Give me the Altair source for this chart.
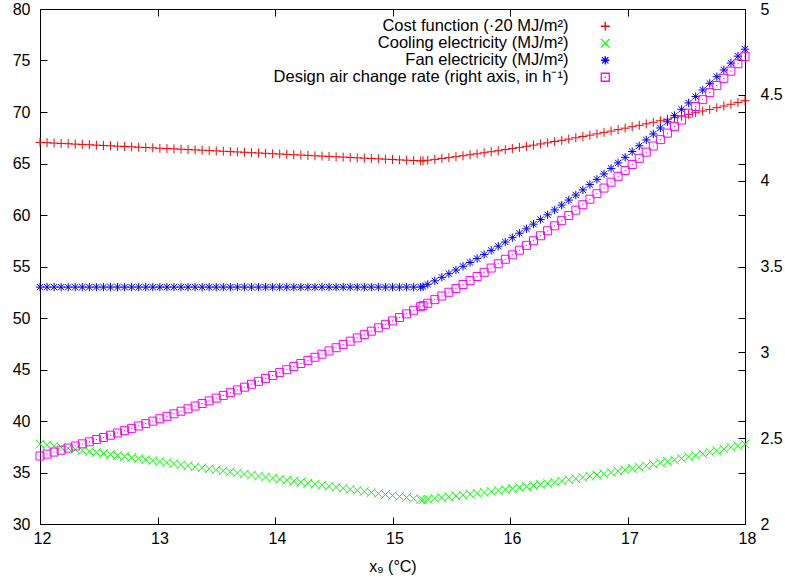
import altair as alt
import pandas as pd

# x values (°C)
x_c = [
    12.00, 12.06, 12.12, 12.18, 12.24, 12.30, 12.36, 12.42, 12.48, 12.54,
    12.60, 12.66, 12.72, 12.78, 12.84, 12.90, 12.96, 13.02, 13.08, 13.14,
    13.20, 13.26, 13.32, 13.38, 13.44, 13.50, 13.56, 13.62, 13.68, 13.74,
    13.80, 13.86, 13.92, 13.98, 14.04, 14.10, 14.16, 14.22, 14.28, 14.34,
    14.40, 14.46, 14.52, 14.58, 14.64, 14.70, 14.76, 14.82, 14.88, 14.94,
    15.00, 15.06, 15.12, 15.18, 15.24,
    15.26,
    15.30, 15.36, 15.42, 15.48, 15.54, 15.60, 15.66, 15.72, 15.78, 15.84,
    15.90, 15.96, 16.02, 16.08, 16.14, 16.20, 16.26, 16.32, 16.38, 16.44,
    16.50, 16.56, 16.62, 16.68, 16.74, 16.80, 16.86, 16.92, 16.98, 17.04,
    17.10, 17.16, 17.22, 17.28, 17.34, 17.40, 17.46, 17.52, 17.58, 17.64,
    17.70, 17.76, 17.82, 17.88, 17.94, 18.00,
]

cost = [
    67.05, 67.02, 66.98, 66.95, 66.92, 66.88, 66.85, 66.82, 66.78, 66.75,
    66.72, 66.68, 66.65, 66.62, 66.58, 66.55, 66.52, 66.48, 66.45, 66.42,
    66.39, 66.35, 66.32, 66.29, 66.25, 66.22, 66.19, 66.15, 66.12, 66.09,
    66.05, 66.02, 65.99, 65.95, 65.92, 65.89, 65.85, 65.82, 65.79, 65.75,
    65.72, 65.69, 65.65, 65.62, 65.59, 65.55, 65.52, 65.49, 65.45, 65.42,
    65.39, 65.35, 65.32, 65.29, 65.25,
    65.26,
    65.32, 65.40, 65.49, 65.57, 65.66, 65.75, 65.85, 65.94, 66.04, 66.14,
    66.24, 66.35, 66.45, 66.56, 66.67, 66.78, 66.90, 67.01, 67.13, 67.25,
    67.37, 67.50, 67.62, 67.75, 67.88, 68.02, 68.15, 68.29, 68.43, 68.57,
    68.71, 68.85, 69.00, 69.15, 69.30, 69.45, 69.61, 69.77, 69.93, 70.09,
    70.25, 70.42, 70.58, 70.75, 70.93, 71.10,
]

cooling = [
    37.75, 37.65, 37.55, 37.45, 37.35, 37.25, 37.15, 37.05, 36.95, 36.85,
    36.75, 36.65, 36.55, 36.45, 36.35, 36.25, 36.16, 36.06, 35.96, 35.86,
    35.76, 35.66, 35.56, 35.46, 35.36, 35.26, 35.16, 35.06, 34.96, 34.86,
    34.76, 34.66, 34.56, 34.46, 34.36, 34.26, 34.16, 34.06, 33.96, 33.86,
    33.76, 33.66, 33.56, 33.46, 33.36, 33.26, 33.16, 33.06, 32.96, 32.86,
    32.77, 32.67, 32.57, 32.47, 32.37,
    32.36,
    32.41, 32.49, 32.56, 32.64, 32.72, 32.80, 32.89, 32.98, 33.06, 33.16,
    33.25, 33.34, 33.44, 33.54, 33.64, 33.74, 33.85, 33.95, 34.06, 34.17,
    34.29, 34.40, 34.52, 34.64, 34.76, 34.88, 35.01, 35.13, 35.26, 35.40,
    35.53, 35.66, 35.80, 35.94, 36.08, 36.22, 36.37, 36.52, 36.67, 36.82,
    36.97, 37.13, 37.28, 37.44, 37.60, 37.77,
]

fan = [
    53.00, 53.00, 53.00, 53.00, 53.00, 53.00, 53.00, 53.00, 53.00, 53.00,
    53.00, 53.00, 53.00, 53.00, 53.00, 53.00, 53.00, 53.00, 53.00, 53.00,
    53.00, 53.00, 53.00, 53.00, 53.00, 53.00, 53.00, 53.00, 53.00, 53.00,
    53.00, 53.00, 53.00, 53.00, 53.00, 53.00, 53.00, 53.00, 53.00, 53.00,
    53.00, 53.00, 53.00, 53.00, 53.00, 53.00, 53.00, 53.00, 53.00, 53.00,
    53.00, 53.00, 53.00, 53.00, 53.00,
    53.05,
    53.27, 53.61, 53.95, 54.30, 54.66, 55.02, 55.39, 55.78, 56.16, 56.56,
    56.97, 57.38, 57.80, 58.23, 58.66, 59.11, 59.56, 60.02, 60.49, 60.96,
    61.45, 61.94, 62.44, 62.95, 63.46, 63.99, 64.52, 65.06, 65.60, 66.16,
    66.72, 67.29, 67.87, 68.45, 69.05, 69.65, 70.26, 70.88, 71.50, 72.14,
    72.78, 73.43, 74.08, 74.75, 75.42, 76.10,
]

# design air change rate (right axis, h^-1)
ach = [
    2.396, 2.407, 2.419, 2.430, 2.442, 2.454, 2.467, 2.479, 2.492, 2.504,
    2.517, 2.530, 2.544, 2.557, 2.571, 2.585, 2.599, 2.613, 2.627, 2.642,
    2.657, 2.671, 2.687, 2.702, 2.717, 2.733, 2.749, 2.765, 2.781, 2.797,
    2.814, 2.831, 2.848, 2.865, 2.882, 2.899, 2.917, 2.935, 2.953, 2.971,
    2.989, 3.008, 3.027, 3.046, 3.065, 3.084, 3.103, 3.123, 3.143, 3.163,
    3.183, 3.203, 3.224, 3.245, 3.266,
    3.272,
    3.286, 3.307, 3.328, 3.350, 3.372, 3.395, 3.418, 3.442, 3.466, 3.491,
    3.516, 3.542, 3.568, 3.595, 3.623, 3.650, 3.679, 3.708, 3.737, 3.767,
    3.797, 3.828, 3.860, 3.892, 3.924, 3.957, 3.991, 4.025, 4.059, 4.094,
    4.130, 4.166, 4.202, 4.239, 4.277, 4.315, 4.353, 4.393, 4.432, 4.472,
    4.513, 4.554, 4.596, 4.638, 4.681, 4.724,
]

labels = [
    "Cost function (·20 MJ/m²)",
    "Cooling electricity (MJ/m²)",
    "Fan electricity (MJ/m²)",
    "Design air change rate (right axis, in h⁻¹)",
]
colors = ["#ff0000", "#00ff00", "#0000ff", "#ff00ff"]
shapes = [
    "M-1,0L1,0M0,-1L0,1",
    "M-1,-1L1,1M-1,1L1,-1",
    "M-1,0L1,0M0,-1L0,1M-0.75,-0.75L0.75,0.75M-0.75,0.75L0.75,-0.75",
    "M-1,-1L1,-1L1,1L-1,1Z M-0.15,0L0.15,0",
]
sizes = [81, 64, 90, 64]

x_ticks = [12, 13, 14, 15, 16, 17, 18]
yl_ticks = [30, 35, 40, 45, 50, 55, 60, 65, 70, 75, 80]
yr_ticks = [2, 2.5, 3, 3.5, 4, 4.5, 5]

n = len(x_c)
left_df = pd.DataFrame({
    "x": x_c * 3,
    "v": cost + cooling + fan,
    "series": [labels[0]] * n + [labels[1]] * n + [labels[2]] * n,
})
right_df = pd.DataFrame({"x": x_c, "v": ach, "series": [labels[3]] * n})

W, H = 705, 515
FONT = "Liberation Sans"

xs = alt.Scale(domain=[12, 18], nice=False, zero=False)
yls = alt.Scale(domain=[30, 80], nice=False, zero=False)
yrs = alt.Scale(domain=[2, 5], nice=False, zero=False)

leg = alt.Legend(
    orient="none", legendX=557, legendY=9, title=None,
    labelAlign="right", labelOffset={"expr": "-45"}, symbolOffset=0,
    labelFontSize=16.5, labelFont=FONT,
    labelColor="black", labelLimit=0, symbolSize=70, symbolStrokeWidth=1.3,
    symbolOpacity=1, rowPadding=0, padding=0,
)
color = alt.Color("series:N", scale=alt.Scale(domain=labels, range=colors), legend=leg)
shape = alt.Shape("series:N", scale=alt.Scale(domain=labels, range=shapes), legend=leg)
size = alt.Size("series:N", scale=alt.Scale(domain=labels, range=sizes), legend=None)


def tick_axis(orient, offset, values, tsize=7):
    return alt.Axis(orient=orient, offset=offset, values=values, labels=False,
                    domain=False, grid=False, title=None, ticks=True,
                    tickSize=tsize, tickWidth=1, tickColor="black")


main_left = alt.Chart(left_df).mark_point(filled=False, strokeWidth=1, opacity=1).encode(
    x=alt.X("x:Q", scale=xs, axis=alt.Axis(
        orient="bottom", values=x_ticks, ticks=False, domain=False, grid=False,
        labelFlush=False, labelOffset=2,
        labelPadding=6, title="x₉ (°C)", titlePadding=12, format="d")),
    y=alt.Y("v:Q", scale=yls, axis=alt.Axis(
        orient="left", values=yl_ticks, ticks=False, domain=False, grid=False,
        labelPadding=10, title=None)),
    color=color, shape=shape, size=size,
)

ticks_a = alt.Chart(left_df).mark_point(opacity=0).encode(
    x=alt.X("x:Q", scale=xs, axis=tick_axis("top", -H, x_ticks)),
    y=alt.Y("v:Q", scale=yls, axis=tick_axis("right", -W, yl_ticks)),
)
ticks_b = alt.Chart(left_df).mark_point(opacity=0).encode(
    x=alt.X("x:Q", scale=xs, axis=tick_axis("bottom", -H, x_ticks)),
    y=alt.Y("v:Q", scale=yls, axis=tick_axis("left", -W, yl_ticks)),
)

main_right = alt.Chart(right_df).mark_point(filled=False, strokeWidth=1, opacity=1).encode(
    x=alt.X("x:Q", scale=xs, axis=None),
    y=alt.Y("v:Q", scale=yrs, axis=alt.Axis(
        orient="right", values=yr_ticks, ticks=False, domain=False, grid=False,
        labelPadding=15, title=None, format="~g")),
    color=color, shape=shape, size=size,
)
ticks_r = alt.Chart(right_df).mark_point(opacity=0).encode(
    x=alt.X("x:Q", scale=xs, axis=None),
    y=alt.Y("v:Q", scale=yrs, axis=tick_axis("left", -W, yr_ticks)),
)

chart = alt.layer(ticks_a, ticks_b, ticks_r, main_left, main_right).resolve_scale(
    x="shared", y="independent", color="shared", shape="shared"
).resolve_axis(x="independent", y="independent").properties(
    width=W, height=H,
    padding={"left": 40, "top": 9, "right": 40, "bottom": 55},
    autosize=alt.AutoSizeParams(type="none"),
).configure_axis(
    labelFont=FONT, labelFontSize=16, labelColor="black",
    titleFont=FONT, titleFontSize=16, titleFontWeight="normal", titleColor="black",
).configure_view(stroke="black", strokeWidth=1)

chart.save("out.html", embed_options={"renderer": "svg", "actions": False})
